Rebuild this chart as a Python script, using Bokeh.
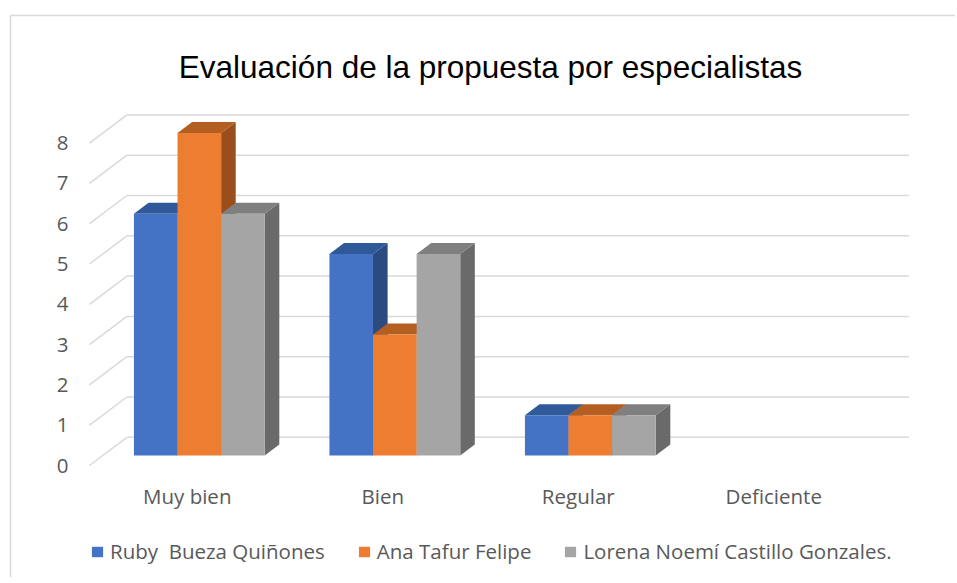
from bokeh.plotting import figure
from bokeh.models import Range1d, Legend, LegendItem, ColumnDataSource
from bokeh.core.properties import value
from bokeh.embed import file_html
from bokeh.resources import INLINE

# ---------------- data ----------------
categories = ["Muy bien", "Bien", "Regular", "Deficiente"]
series_names = ["Ruby  Bueza Quiñones", "Ana Tafur Felipe", "Lorena Noemí Castillo Gonzales."]
ruby = [6, 5, 1, 0]
ana = [8, 3, 1, 0]
lorena = [6, 5, 1, 0]
y_ticks = [0, 1, 2, 3, 4, 5, 6, 7, 8]
title_text = "Evaluación de la propuesta por especialistas"

# ---------------- style ----------------
front_colors = ["#4472C4", "#ED7D31", "#A5A5A5"]
top_colors = ["#30599A", "#B55E22", "#7F7F7F"]
side_colors = ["#2A4A80", "#9A4E1C", "#6A6A6A"]
grid_color = "#D9D9D9"
label_color = "#595959"
label_font = "Open Sans"
label_size = "20.5px"

W, H = 955, 577
PAGE = 0           # page offset of the figure as observed
PX_CAT = 195.5     # pixels per category on the front plane
PX_UNIT = 40.3     # pixels per value unit
X0 = 89            # page x of front-plane origin
Y0 = 465           # page y of front-plane zero

DX = 37.4 / PX_CAT     # full depth offset (back wall) in x data units
DY = 28.2 / PX_UNIT    # full depth offset in y data units
F1 = 0.355             # depth fraction where bar fronts sit
FD = 0.39              # bar depth fraction
BW = 43.6 / PX_CAT     # bar width
BAR_SHIFT = -1.2 / PX_CAT


def px_x(page_x):
    return (page_x - X0) / PX_CAT


def px_y(page_y):
    return (Y0 - page_y) / PX_UNIT


p = figure(width=W, height=H, output_backend="svg", toolbar_location=None,
           x_range=Range1d(px_x(PAGE), px_x(PAGE + W)),
           y_range=Range1d(px_y(PAGE + H), px_y(PAGE)),
           min_border=0, x_axis_location=None, y_axis_location=None)
p.grid.visible = False
p.outline_line_color = None
p.background_fill_color = "white"
p.border_fill_color = "white"

# chart-area border (top and left edges visible in the crop)
p.segment(x0=[px_x(10), px_x(10)], y0=[px_y(15), px_y(15)],
          x1=[px_x(PAGE + W + 20), px_x(10)], y1=[px_y(15), px_y(PAGE + H + 20)],
          line_color=grid_color, line_width=1.5)

# back-wall gridlines and side-wall diagonals
n_cat = len(categories)
p.segment(x0=[DX] * len(y_ticks), y0=[t + DY for t in y_ticks],
          x1=[n_cat + DX] * len(y_ticks), y1=[t + DY for t in y_ticks],
          line_color=grid_color, line_width=1.5)
p.segment(x0=[0] * len(y_ticks), y0=y_ticks,
          x1=[DX] * len(y_ticks), y1=[t + DY for t in y_ticks],
          line_color=grid_color, line_width=1.5)

# ---------------- 3D bars ----------------
series = [ruby, ana, lorena]
fronts, tops, sides = [], [], []
for s, vals in enumerate(series):
    fl, fr, fb, ft = [], [], [], []
    txs, tys, sxs, sys_ = [], [], [], []
    for i, v in enumerate(vals):
        if v <= 0:
            continue
        left = i + 0.5 - 1.5 * BW + s * BW + F1 * DX + BAR_SHIFT
        right = left + BW
        bottom = F1 * DY
        top = v + F1 * DY
        fl.append(left); fr.append(right); fb.append(bottom); ft.append(top)
        ddx, ddy = FD * DX, FD * DY
        txs.append([left, right, right + ddx, left + ddx])
        tys.append([top, top, top + ddy, top + ddy])
        sxs.append([right, right, right + ddx, right + ddx])
        sys_.append([bottom, top, top + ddy, bottom + ddy])
    fronts.append(dict(left=fl, right=fr, bottom=fb, top=ft))
    tops.append(dict(xs=txs, ys=tys))
    sides.append(dict(xs=sxs, ys=sys_))

for s in range(3):
    p.patches(xs="xs", ys="ys", source=ColumnDataSource(sides[s]),
              fill_color=side_colors[s], line_color=None)
for s in range(3):
    p.patches(xs="xs", ys="ys", source=ColumnDataSource(tops[s]),
              fill_color=top_colors[s], line_color=None)
front_renderers = []
for s in range(3):
    r = p.quad(left="left", right="right", bottom="bottom", top="top",
               source=ColumnDataSource(fronts[s]),
               fill_color=front_colors[s], line_color=None)
    front_renderers.append(r)

# ---------------- texts ----------------
p.text(x=[px_x(X0 - 21)] * len(y_ticks), y=y_ticks, text=[str(t) for t in y_ticks],
       text_align="right", text_baseline="middle", text_color=label_color,
       text_font=value(label_font), text_font_size=label_size)

p.text(x=[i + 0.5 for i in range(n_cat)], y=[px_y(495)] * n_cat, text=categories,
       text_align="center", text_baseline="middle", text_color=label_color,
       text_font=value(label_font), text_font_size=label_size)

p.text(x=[px_x(490)], y=[px_y(66)], text=[title_text],
       text_align="center", text_baseline="alphabetic", text_color="#000000",
       text_font=value("Liberation Sans"), text_font_size="31.5px")

legend = Legend(items=[LegendItem(label=series_names[s], renderers=[front_renderers[s]])
                       for s in range(3)],
                location=(90 - PAGE, PAGE + H - 554 - 11), orientation="horizontal",
                glyph_width=14, glyph_height=13, label_standoff=6, spacing=32,
                padding=0, margin=0, label_height=20,
                label_text_font=label_font, label_text_font_size=label_size,
                label_text_color=label_color,
                border_line_color=None, background_fill_alpha=0)
p.add_layout(legend)

open("out.html", "w").write(file_html(p, INLINE))
